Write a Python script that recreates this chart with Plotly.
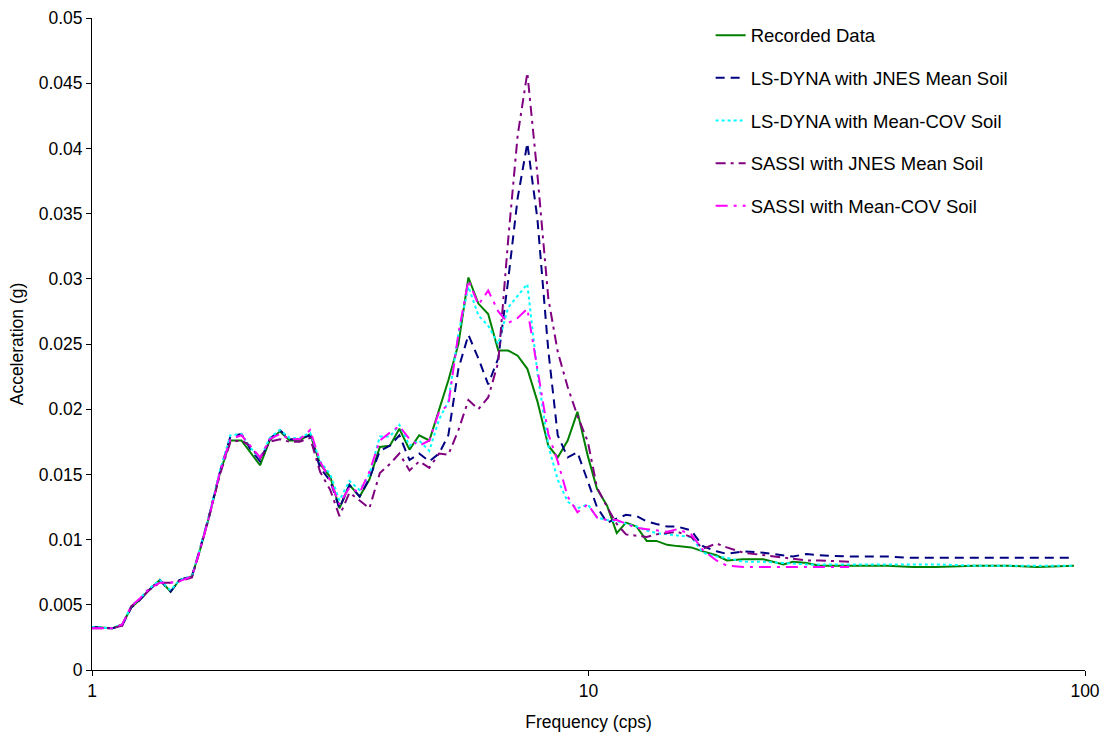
import plotly.graph_objects as go

# Frequencies (cps)
freq = [1.0, 1.1, 1.15, 1.2, 1.25, 1.3, 1.37, 1.44, 1.5, 1.59, 1.65, 1.72, 1.81, 1.9, 2.0,
        2.08, 2.18, 2.28, 2.39, 2.5, 2.62, 2.75, 2.88, 3.02, 3.15, 3.3, 3.46, 3.62, 3.8, 3.98,
        4.16, 4.36, 4.56, 4.78, 5.0, 5.22, 5.47, 5.73, 6.0, 6.28, 6.58, 6.89, 7.2, 7.53, 7.89,
        8.3, 8.67, 9.08, 9.5, 9.97, 10.4, 10.9, 11.4, 11.9, 12.5, 13.1, 13.7, 14.4, 15.1, 16.1,
        17.0, 18.1, 19.0, 20.5, 22.5, 24.7, 25.8, 27.5, 29.2, 33.5, 35, 40, 45, 50, 60, 70, 80, 95]

recorded = [0.0033, 0.0032, 0.0035, 0.0048, 0.0054, 0.0061, 0.0069, 0.0060, 0.0069, 0.0072,
            0.0092, 0.0117, 0.0151, 0.0176, 0.0176, 0.0167, 0.0157, 0.0176, 0.0183, 0.0176,
            0.0176, 0.0181, 0.0158, 0.0148, 0.0124, 0.0142, 0.0133, 0.0146, 0.0171, 0.0172,
            0.0185, 0.0169, 0.0180, 0.0176, 0.0200, 0.0222, 0.0250, 0.0301, 0.0281, 0.0273,
            0.0245, 0.0245, 0.0241, 0.0231, 0.0206, 0.0172, 0.0163, 0.0176, 0.0198, 0.0164,
            0.0139, 0.0126, 0.0105, 0.0113, 0.0110, 0.0099, 0.0099, 0.0096, 0.0095, 0.0094,
            0.0091, 0.0088, 0.0084, 0.0085, 0.0085, 0.0081, 0.0083, 0.0082, 0.0080, 0.0080,
            0.0080, 0.0080, 0.0079, 0.0079, 0.0080, 0.0080, 0.0079, 0.0080]

lsdyna_jnes = [0.0033, 0.0032, 0.0034, 0.0048, 0.0054, 0.0061, 0.0069, 0.0060, 0.0069, 0.0072,
               0.0093, 0.0118, 0.0152, 0.0179, 0.0181, 0.0170, 0.0160, 0.0177, 0.0184, 0.0177,
               0.0177, 0.0180, 0.0155, 0.0145, 0.0124, 0.0142, 0.0133, 0.0147, 0.0168, 0.0172,
               0.0180, 0.0161, 0.0166, 0.0160, 0.0166, 0.0180, 0.0231, 0.0257, 0.0239, 0.0219,
               0.0239, 0.0299, 0.0362, 0.0404, 0.0346, 0.0245, 0.0180, 0.0163, 0.0167, 0.0145,
               0.0125, 0.0113, 0.0116, 0.0119, 0.0118, 0.0114, 0.0112, 0.0110, 0.0110, 0.0107,
               0.0095, 0.0091, 0.0089, 0.0091, 0.0090, 0.0088, 0.0087, 0.0089, 0.0088, 0.0087,
               0.0087, 0.0087, 0.0086, 0.0086, 0.0086, 0.0086, 0.0086, 0.0086]

lsdyna_cov = [0.0033, 0.0032, 0.0035, 0.0049, 0.0055, 0.0062, 0.0069, 0.0061, 0.0069, 0.0072,
              0.0093, 0.0118, 0.0153, 0.0180, 0.0181, 0.0171, 0.0162, 0.0178, 0.0184, 0.0178,
              0.0178, 0.0182, 0.0160, 0.0150, 0.0130, 0.0145, 0.0138, 0.0150, 0.0179, 0.0179,
              0.0188, 0.0172, 0.0176, 0.0168, 0.0192, 0.0206, 0.0258, 0.0294, 0.0272, 0.0264,
              0.0250, 0.0278, 0.0287, 0.0296, 0.0228, 0.0172, 0.0146, 0.0129, 0.0124, 0.0127,
              0.0117, 0.0115, 0.0114, 0.0112, 0.0110, 0.0107, 0.0105, 0.0104, 0.0103, 0.0102,
              0.0090, 0.0087, 0.0086, 0.0083, 0.0083, 0.0082, 0.0082, 0.0081, 0.0081, 0.0081,
              0.0081, 0.0081, 0.0081, 0.0081, 0.0080, 0.0080, 0.0080, 0.0080]

sassi_freq = freq[:70]

sassi_jnes = [0.0032, 0.0032, 0.0034, 0.0049, 0.0054, 0.0061, 0.0067, 0.0067, 0.0068, 0.0071,
              0.0092, 0.0117, 0.0150, 0.0175, 0.0176, 0.0172, 0.0162, 0.0175, 0.0177, 0.0175,
              0.0175, 0.0178, 0.0152, 0.0138, 0.0118, 0.0136, 0.0130, 0.0124, 0.0151, 0.0158,
              0.0166, 0.0153, 0.0160, 0.0155, 0.0166, 0.0165, 0.0184, 0.0207, 0.0200, 0.0209,
              0.0236, 0.0330, 0.0410, 0.0458, 0.0380, 0.0285, 0.0244, 0.0217, 0.0195, 0.0175,
              0.0140, 0.0125, 0.0112, 0.0104, 0.0103, 0.0102, 0.0104, 0.0105, 0.0106, 0.0102,
              0.0093, 0.0097, 0.0094, 0.0090, 0.0088, 0.0086, 0.0085, 0.0084, 0.0084, 0.0083]

sassi_cov = [0.0032, 0.0032, 0.0035, 0.0049, 0.0055, 0.0062, 0.0067, 0.0067, 0.0068, 0.0072,
             0.0092, 0.0117, 0.0152, 0.0177, 0.0180, 0.0172, 0.0163, 0.0177, 0.0181, 0.0177,
             0.0177, 0.0184, 0.0160, 0.0145, 0.0127, 0.0140, 0.0136, 0.0152, 0.0176, 0.0182,
             0.0187, 0.0177, 0.0172, 0.0176, 0.0198, 0.0203, 0.0258, 0.0299, 0.0280, 0.0291,
             0.0275, 0.0266, 0.0270, 0.0277, 0.0230, 0.0181, 0.0160, 0.0133, 0.0121, 0.0127,
             0.0117, 0.0115, 0.0115, 0.0112, 0.0109, 0.0108, 0.0107, 0.0106, 0.0108, 0.0104,
             0.0092, 0.0084, 0.0080, 0.0079, 0.0079, 0.0079, 0.0079, 0.0079, 0.0079, 0.0079]

y_ticks = [0, 0.005, 0.01, 0.015, 0.02, 0.025, 0.03, 0.035, 0.04, 0.045, 0.05]
y_tick_labels = ["0", "0.005", "0.01", "0.015", "0.02", "0.025", "0.03", "0.035", "0.04", "0.045", "0.05"]
x_ticks = [1, 10, 100]
x_tick_labels = ["1", "10", "100"]

series = [
    ("Recorded Data", freq, recorded, "#008000", "solid"),
    ("LS-DYNA with JNES Mean Soil", freq, lsdyna_jnes, "#000080", "9px,6px"),
    ("LS-DYNA with Mean-COV Soil", freq, lsdyna_cov, "#00FFFF", "3px,3px"),
    ("SASSI with JNES Mean Soil", sassi_freq, sassi_jnes, "#800080", "10px,5px,3px,5px"),
    ("SASSI with Mean-COV Soil", sassi_freq, sassi_cov, "#FF00FF", "12px,6px,3px,6px"),
]

fig = go.Figure()
for i, (name, fx, fy, color, dash) in enumerate(series):
    fig.add_trace(go.Scatter(
        x=fx, y=fy, mode="lines", name=name, legendgroup=f"g{i}",
        line=dict(color=color, width=2, dash=dash),
    ))

FONT = "Liberation Sans, Arial, sans-serif"
fig.update_layout(
    width=1104, height=738,
    margin=dict(l=92, r=19, t=18, b=68),
    paper_bgcolor="white", plot_bgcolor="white",
    font=dict(family=FONT, size=17.5, color="black"),
    showlegend=True,
    legend=dict(x=0.623, y=1.002, xanchor="left", yanchor="top",
                bgcolor="rgba(0,0,0,0)", tracegroupgap=15.6,
                font=dict(family=FONT, size=18.5, color="black")),
    xaxis=dict(type="log", range=[0, 2], tickmode="array", tickvals=x_ticks,
               ticktext=x_tick_labels, ticks="outside", ticklen=5, tickcolor="black",
               showline=True, linecolor="black", linewidth=1, showgrid=False,
               zeroline=False, tickfont=dict(size=17.5), automargin=False,
               ticklabeloverflow="allow",
               title=dict(text="Frequency (cps)", font=dict(size=17.5))),
    yaxis=dict(range=[0, 0.05], tickmode="array", tickvals=y_ticks,
               ticktext=y_tick_labels, ticks="outside", ticklen=5, tickcolor="black",
               showline=True, linecolor="black", linewidth=1, showgrid=False,
               zeroline=False, tickfont=dict(size=17.5), automargin=False,
               title=dict(text="Acceleration (g)", font=dict(size=17.5), standoff=10)),
)

fig.write_html(
    "out.html",
    config={"displayModeBar": False},
    post_script="document.body.style.margin='0';document.body.style.overflow='hidden';",
)
